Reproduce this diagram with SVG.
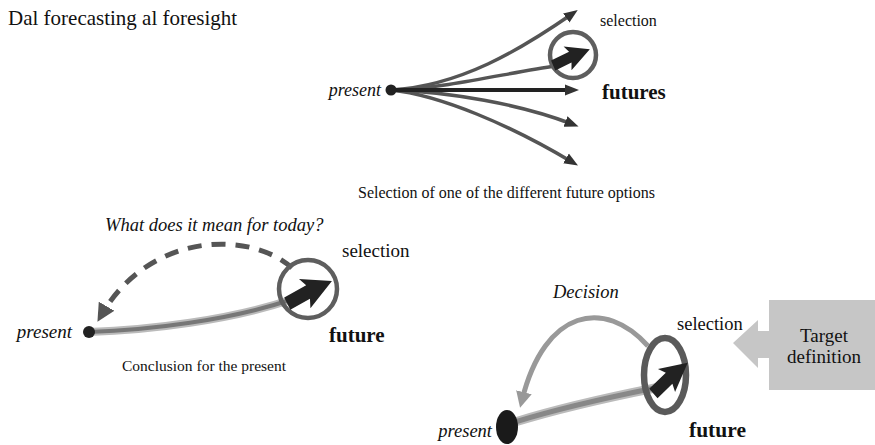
<svg xmlns="http://www.w3.org/2000/svg" width="875" height="445" viewBox="0 0 875 445">
<style>
.t{font-family:"Liberation Serif","Times New Roman",serif;fill:#111}
.i{font-style:italic}
.b{font-weight:bold}
.fan{fill:none;stroke:#555;stroke-width:3.5;stroke-linecap:round}
.ring{fill:none;stroke:#5e5e5e;stroke-width:4.5}
.fat{fill:#222}
</style>
<defs>
<marker id="ah" markerUnits="userSpaceOnUse" markerWidth="14" markerHeight="14" viewBox="0 0 10 10" refX="5" refY="5" orient="auto">
<path d="M0,1 L10,5 L0,9 Z" fill="#333"/>
</marker>
<marker id="ahd" markerUnits="userSpaceOnUse" markerWidth="18" markerHeight="18" viewBox="0 0 10 10" refX="5" refY="5" orient="auto">
<path d="M0,0 L10,5 L0,10 Z" fill="#555"/>
</marker>
<marker id="ahg" markerUnits="userSpaceOnUse" markerWidth="16" markerHeight="16" viewBox="0 0 10 10" refX="5" refY="5" orient="auto">
<path d="M0,0 L10,5 L0,10 Z" fill="#999"/>
</marker>
<path id="fatarrow" d="M0,-5 L20,-6 L17,-13 L40,0 L15,12 L18,5 L0,6 Z"/>
</defs>

<text class="t" x="8" y="25" font-size="21">Dal forecasting al foresight</text>

<g id="top-diagram">
<g id="connectors-top">
<path class="fan" d="M391,90 C460,86 520,50 572,14" marker-end="url(#ah)"/>
<path class="fan" d="M391,90 C450,88 510,72 556,66"/>
<path class="fan" d="M391,90 C450,92 520,104 572,124" marker-end="url(#ah)"/>
<path class="fan" d="M391,90 C440,95 510,125 572,162" marker-end="url(#ah)"/>
<path d="M391,90 L572,90" stroke="#222" stroke-width="4" fill="none" marker-end="url(#ah)"/>
</g>
<circle cx="391" cy="90" r="5.5" fill="#222"/>
<circle class="ring" cx="573" cy="55" r="23"/>
<use href="#fatarrow" class="fat" transform="translate(553,65) rotate(-23)"/>
<text class="t i" x="381" y="96" font-size="18" text-anchor="end">present</text>
<text class="t b" x="602" y="99" font-size="21">futures</text>
<text class="t" x="600" y="26" font-size="16">selection</text>
<text class="t" x="358" y="198" font-size="16">Selection of one of the different future options</text>
</g>

<g id="middle-diagram">
<text class="t i" x="105" y="231" font-size="18.5">What does it mean for today?</text>
<g id="connectors-middle">
<path d="M89,332 C150,330 230,320 290,300" fill="none" stroke="#bbb" stroke-width="8" stroke-linecap="round"/>
<path d="M89,332 C150,330 230,320 290,300" fill="none" stroke="#777" stroke-width="4" stroke-linecap="round"/>
<path d="M292,268 C250,230 150,232 102,314" fill="none" stroke="#555" stroke-width="5" stroke-dasharray="14,10" marker-end="url(#ahd)"/>
</g>
<circle cx="89" cy="332" r="6" fill="#222"/>
<circle class="ring" cx="308" cy="289" r="29"/>
<use href="#fatarrow" class="fat" transform="translate(287,303) rotate(-26) scale(1.25)"/>
<text class="t" x="342" y="257" font-size="19">selection</text>
<text class="t i" x="72" y="338" font-size="19" text-anchor="end">present</text>
<text class="t b" x="329" y="342" font-size="21">future</text>
<text class="t" x="122" y="371" font-size="15.5">Conclusion for the present</text>
</g>

<g id="bottom-diagram">
<text class="t i" x="553" y="298" font-size="18.5">Decision</text>
<g id="connectors-bottom">
<path d="M648,346 C605,298 545,308 522,400" fill="none" stroke="#999" stroke-width="5" marker-end="url(#ahg)"/>
<path d="M515,422 C570,405 620,395 655,388" fill="none" stroke="#bbb" stroke-width="9" stroke-linecap="round"/>
<path d="M515,422 C570,405 620,395 655,388" fill="none" stroke="#888" stroke-width="5" stroke-linecap="round"/>
</g>
<ellipse cx="507" cy="427" rx="11" ry="17" fill="#1a1a1a"/>
<ellipse cx="665" cy="375" rx="21" ry="37" fill="none" stroke="#5a5a5a" stroke-width="6.5"/>
<use href="#fatarrow" class="fat" transform="translate(653,393) rotate(-41) scale(1.15)"/>
<text class="t" x="677" y="330" font-size="18.5">selection</text>
<text class="t i" x="492" y="437" font-size="18.5" text-anchor="end">present</text>
<text class="t b" x="689" y="437" font-size="21.5">future</text>
</g>

<g id="target-definition">
<path d="M769,300 L875,300 L875,390 L769,390 L769,358 L758,358 L758,368 L733,343 L758,320 L758,331 L769,331 Z" fill="#c6c6c6"/>
<text class="t" x="824" y="342" font-size="19" text-anchor="middle">Target</text>
<text class="t" x="824" y="363" font-size="19" text-anchor="middle">definition</text>
</g>
</svg>
